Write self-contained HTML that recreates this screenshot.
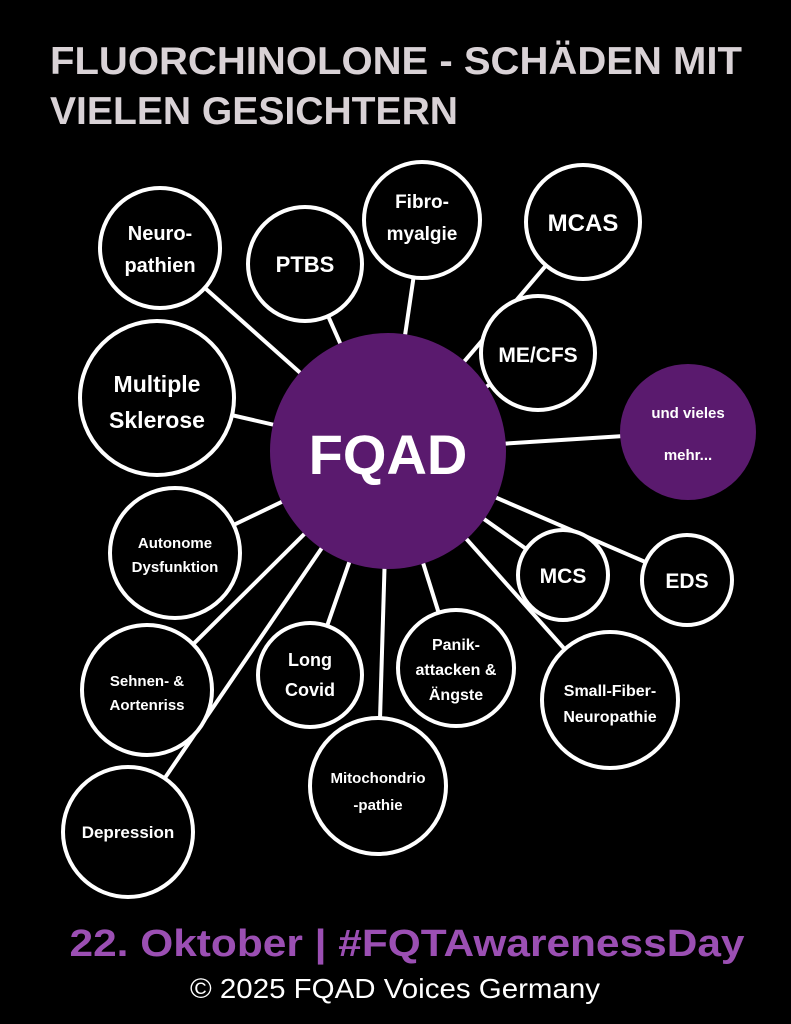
<!DOCTYPE html>
<html><head><meta charset="utf-8"><style>
html,body{margin:0;padding:0;background:#000;}
svg{display:block}
text{font-family:"Liberation Sans",sans-serif;font-weight:bold;fill:#fff;text-anchor:middle}
</style></head><body>
<svg width="791" height="1024" viewBox="0 0 791 1024">
<rect width="791" height="1024" fill="#000"/>
<text x="50" y="74" style="text-anchor:start;fill:#d9d2d6;font-size:39px" textLength="692" lengthAdjust="spacingAndGlyphs">FLUORCHINOLONE - SCHÄDEN MIT</text>
<text x="50" y="124" style="text-anchor:start;fill:#d9d2d6;font-size:39px" textLength="408" lengthAdjust="spacingAndGlyphs">VIELEN GESICHTERN</text>
<g stroke="#fff" stroke-width="4">
<line x1="160" y1="248" x2="388" y2="451"/>
<line x1="305" y1="264" x2="388" y2="451"/>
<line x1="422" y1="220" x2="388" y2="451"/>
<line x1="583" y1="222" x2="388" y2="451"/>
<line x1="538" y1="353" x2="388" y2="451"/>
<line x1="157" y1="398" x2="388" y2="451"/>
<line x1="688" y1="432" x2="388" y2="451"/>
<line x1="175" y1="553" x2="388" y2="451"/>
<line x1="563" y1="575" x2="388" y2="451"/>
<line x1="687" y1="580" x2="388" y2="451"/>
<line x1="147" y1="690" x2="388" y2="451"/>
<line x1="310" y1="675" x2="388" y2="451"/>
<line x1="456" y1="668" x2="388" y2="451"/>
<line x1="610" y1="700" x2="388" y2="451"/>
<line x1="378" y1="786" x2="388" y2="451"/>
<line x1="128" y1="832" x2="388" y2="451"/>
</g>
<g stroke="#fff" stroke-width="4" fill="#000">
<circle cx="160" cy="248" r="60"/>
<circle cx="305" cy="264" r="57"/>
<circle cx="422" cy="220" r="58"/>
<circle cx="583" cy="222" r="57"/>
<circle cx="538" cy="353" r="57"/>
<circle cx="157" cy="398" r="77"/>
<circle cx="175" cy="553" r="65"/>
<circle cx="563" cy="575" r="45"/>
<circle cx="687" cy="580" r="45"/>
<circle cx="147" cy="690" r="65"/>
<circle cx="310" cy="675" r="52"/>
<circle cx="456" cy="668" r="58"/>
<circle cx="610" cy="700" r="68"/>
<circle cx="378" cy="786" r="68"/>
<circle cx="128" cy="832" r="65"/>
</g>
<circle cx="388" cy="451" r="118" fill="#5a1a6e"/>
<circle cx="688" cy="432" r="68" fill="#5a1a6e"/>
<text x="388" y="474" style="font-size:56px">FQAD</text>
<text x="688" y="418" style="font-size:15px">und vieles</text>
<text x="688" y="460" style="font-size:15px">mehr...</text>
<text x="160" y="240" style="font-size:20px">Neuro-</text>
<text x="160" y="272" style="font-size:20px">pathien</text>
<text x="305" y="272" style="font-size:22px">PTBS</text>
<text x="422" y="208" style="font-size:19px">Fibro-</text>
<text x="422" y="240" style="font-size:19px">myalgie</text>
<text x="583" y="231" style="font-size:24px">MCAS</text>
<text x="538" y="362" style="font-size:21px">ME/CFS</text>
<text x="157" y="392" style="font-size:23px">Multiple</text>
<text x="157" y="428" style="font-size:23px">Sklerose</text>
<text x="175" y="548" style="font-size:15px">Autonome</text>
<text x="175" y="572" style="font-size:15px">Dysfunktion</text>
<text x="563" y="583" style="font-size:21px">MCS</text>
<text x="687" y="588" style="font-size:21px">EDS</text>
<text x="147" y="686" style="font-size:15px">Sehnen- &amp;</text>
<text x="147" y="710" style="font-size:15px">Aortenriss</text>
<text x="310" y="666" style="font-size:18px">Long</text>
<text x="310" y="696" style="font-size:18px">Covid</text>
<text x="456" y="650" style="font-size:16px">Panik-</text>
<text x="456" y="675" style="font-size:16px">attacken &amp;</text>
<text x="456" y="700" style="font-size:16px">Ängste</text>
<text x="610" y="696" style="font-size:16px">Small-Fiber-</text>
<text x="610" y="722" style="font-size:16px">Neuropathie</text>
<text x="378" y="783" style="font-size:15px">Mitochondrio</text>
<text x="378" y="810" style="font-size:15px">-pathie</text>
<text x="128" y="838" style="font-size:17px">Depression</text>
<text x="407" y="956" style="fill:#9b4fb3;font-size:38px" textLength="675" lengthAdjust="spacingAndGlyphs">22. Oktober | #FQTAwarenessDay</text>
<text x="395" y="998" style="font-weight:normal;font-size:28px" textLength="410" lengthAdjust="spacingAndGlyphs">© 2025 FQAD Voices Germany</text>
</svg>
</body></html>
